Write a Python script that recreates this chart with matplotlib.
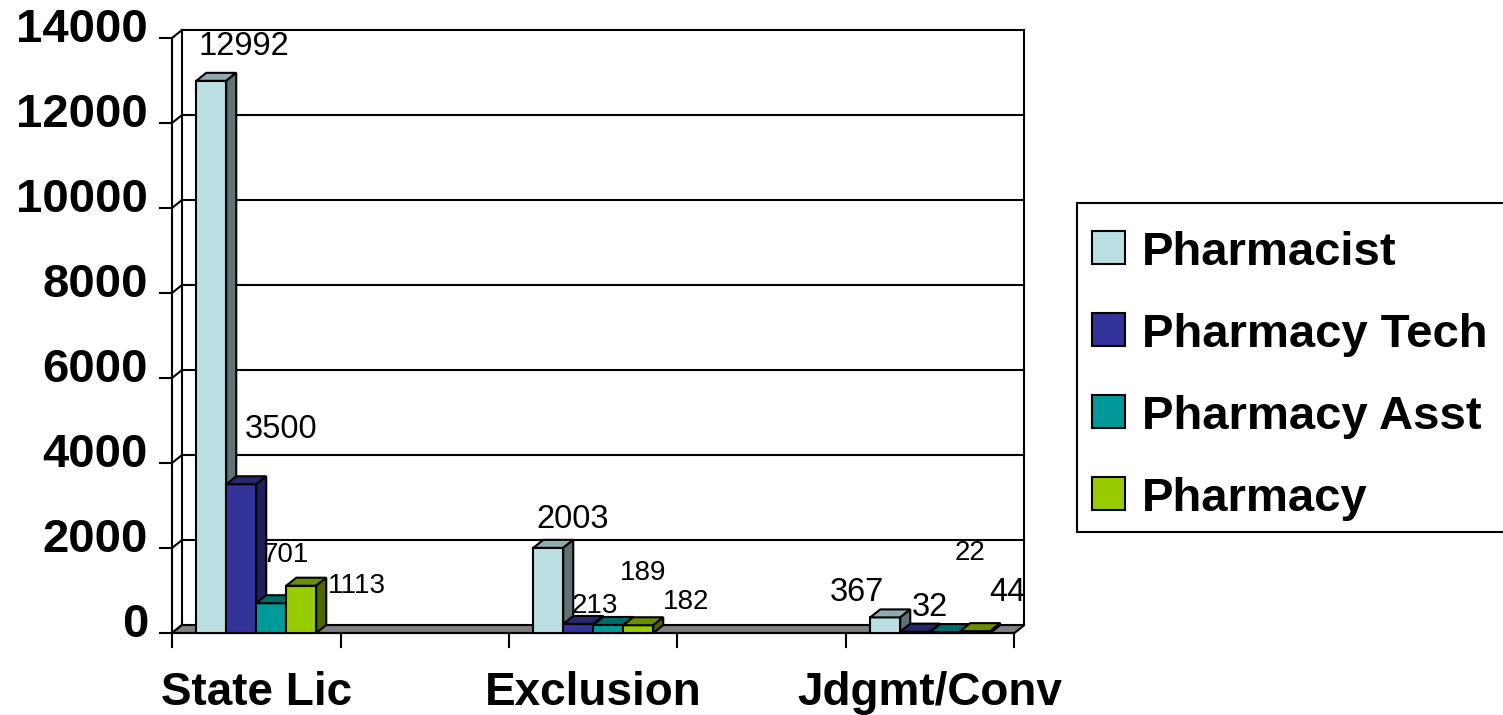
import numpy as np
import matplotlib
matplotlib.use("Agg")
import matplotlib.pyplot as plt
from matplotlib.patches import Polygon, Rectangle

plt.rcParams['font.family'] = ['Liberation Sans', 'DejaVu Sans']

# data
categories = ['State Lic', 'Exclusion', 'Jdgmt/Conv']
series = ['Pharmacist', 'Pharmacy Tech', 'Pharmacy Asst', 'Pharmacy']
pharmacist = [12992, 2003, 367]
pharmacy_tech = [3500, 213, 32]
pharmacy_asst = [701, 189, 22]
pharmacy = [1113, 182, 44]
y_ticks = [0, 2000, 4000, 6000, 8000, 10000, 12000, 14000]

values = [pharmacist, pharmacy_tech, pharmacy_asst, pharmacy]

# face colours: front, top, side
front_cols = ['#BBE0E3', '#333399', '#009999', '#99CC00']
top_cols = ['#8FABAE', '#27276F', '#006B6B', '#6B8F00']
side_cols = ['#5F7374', '#1F1F5C', '#005454', '#4D6600']

# label placement (pixels, relative to front top centre) and size
lab_off = [[(33, 26), (24, 20), (-28, 16)],
           [(40, 46), (17, 11), (15, 16)],
           [(15, 41), (35, 45), (25, 72)],
           [(56, -7), (48, 16), (32, 30)]]
lab_size = [[23.5, 23.5, 23.5],
            [23.5, 20, 23.5],
            [20, 20, 20],
            [20, 20, 23.5]]

W, H, DPI = 1503, 715, 100
fig = plt.figure(figsize=(W / DPI, H / DPI), dpi=DPI)

# pixel geometry of the plot box
px_x = 337.0          # pixels per category
px_y = 595.0 / 14000  # pixels per count
x0_px, y0_px = 172, 633
ax_l, ax_r, ax_t, ax_b = 150, 1050, 15, 660
ax = fig.add_axes([ax_l / W, 1 - ax_b / H, (ax_r - ax_l) / W, (ax_b - ax_t) / H])
xa, xb = -0.25, 2.25
ax.set_xlim(xa - (x0_px - ax_l) / px_x, xa + (ax_r - x0_px) / px_x)
ax.set_ylim(-(ax_b - y0_px) / px_y, (y0_px - ax_t) / px_y)
ax.axis('off')

dx = 10 / px_x
dy = 8 / px_y
ymax = y_ticks[-1]
lw = 1.5

# back wall gridlines, left wall joints and tick labels
for v in y_ticks:
    if v > 0:
        ax.plot([xa + dx, xb + dx], [v + dy, v + dy], color='black', lw=lw, zorder=1)
    ax.plot([xa, xa + dx], [v, v + dy], color='black', lw=lw, zorder=1)
    ax.plot([xa - 12 / px_x, xa], [v, v], color='black', lw=lw, zorder=1)
    ax.text(xa - 24 / px_x, v + dy, str(v), ha='right', va='center',
            fontsize=34, fontweight='bold')
ax.plot([xa + dx, xa + dx], [dy, ymax + dy], color='black', lw=lw, zorder=1)
ax.plot([xb + dx, xb + dx], [dy, ymax + dy], color='black', lw=lw, zorder=1)
ax.plot([xa, xa], [0, ymax], color='black', lw=lw, zorder=1)

# floor
ax.add_patch(Polygon([(xa, 0), (xb, 0), (xb + dx, dy), (xa + dx, dy)],
                     closed=True, facecolor='#808080', edgecolor='black',
                     lw=lw, zorder=2))
ax.plot([xa, xb], [0, 0], color='black', lw=lw, zorder=2)
for t in np.arange(xa, xb + 0.01, 0.5):
    ax.plot([t, t], [0, -14 / px_y], color='black', lw=lw, zorder=2)

# bars with top and side faces
bw = 30 / px_x
x = np.arange(len(categories))
z = 3
for i in range(len(categories)):
    for j in range(len(series)):
        v = values[j][i]
        left = x[i] - 2 * bw + j * bw
        ax.bar(left, v, width=bw, align='edge', color=front_cols[j],
               edgecolor='black', lw=lw, zorder=z)
        ax.add_patch(Polygon([(left, v), (left + bw, v), (left + bw + dx, v + dy),
                              (left + dx, v + dy)], closed=True,
                             facecolor=top_cols[j], edgecolor='black', lw=lw, zorder=z))
        ax.add_patch(Polygon([(left + bw, 0), (left + bw + dx, dy),
                              (left + bw + dx, v + dy), (left + bw, v)], closed=True,
                             facecolor=side_cols[j], edgecolor='black', lw=lw, zorder=z))
        z += 1
        ox, oy = lab_off[j][i]
        ax.annotate(str(v), xy=(left + bw / 2, v), xytext=(ox, oy),
                    textcoords='offset pixels', ha='center', va='baseline',
                    fontsize=lab_size[j][i], zorder=50)

# category labels
for i, c in enumerate(categories):
    ax.text(x[i], -(705 - y0_px) / px_y, c, ha='center', va='baseline',
            fontsize=33, fontweight='bold', clip_on=False)

# legend box, drawn in figure pixels
def fx(p):
    return p / W

def fy(p):
    return 1 - p / H

fig.patches.append(Rectangle((fx(1077), fy(532)), fx(1520) - fx(1077), fy(203) - fy(532),
                             transform=fig.transFigure, facecolor='white',
                             edgecolor='black', lw=1.5))
for j, name in enumerate(series):
    yc = 248 + 82 * j
    fig.patches.append(Rectangle((fx(1092), fy(yc + 16)), fx(33), 33 / H,
                                 transform=fig.transFigure, facecolor=front_cols[j],
                                 edgecolor='black', lw=1.5))
    fig.text(fx(1142), fy(yc), name, ha='left', va='center_baseline',
             fontsize=34, fontweight='bold')

fig.savefig('out.png', dpi=DPI)
